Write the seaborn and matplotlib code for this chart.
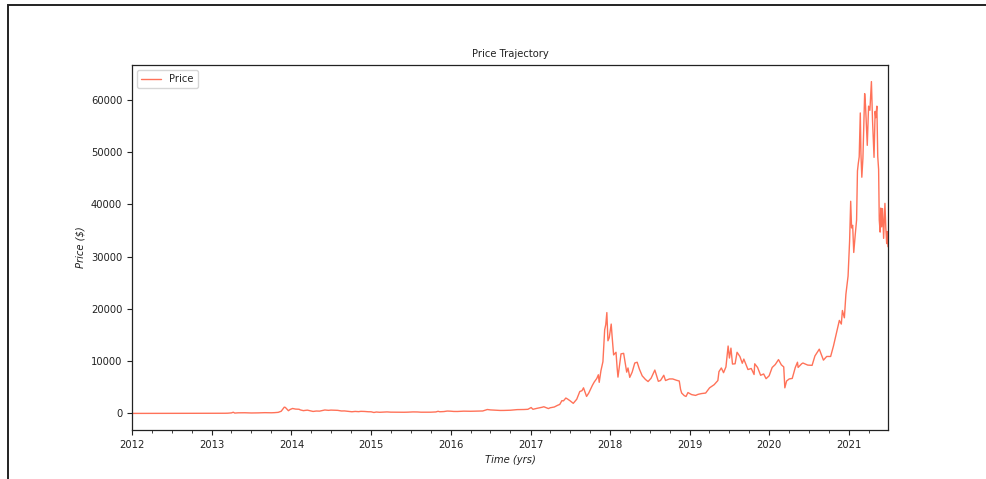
import matplotlib
matplotlib.use("Agg")
import matplotlib.pyplot as plt
import matplotlib.dates as mdates
from matplotlib.patches import Rectangle
import pandas as pd
import seaborn as sns

# Closing prices (USD) at selected dates
dates = [
    "2012-01-01", "2012-02-01", "2012-03-01", "2012-04-01", "2012-05-01", "2012-06-01",
    "2012-07-01", "2012-08-01", "2012-08-17", "2012-09-01", "2012-10-01", "2012-11-01",
    "2012-12-01", "2013-01-01", "2013-02-01", "2013-03-01", "2013-03-15", "2013-04-01",
    "2013-04-09", "2013-04-16", "2013-05-01", "2013-06-01", "2013-07-01", "2013-08-01",
    "2013-09-01", "2013-10-01", "2013-10-15", "2013-11-01", "2013-11-15", "2013-11-29",
    "2013-12-04", "2013-12-18", "2013-12-26", "2014-01-06", "2014-01-20", "2014-02-05",
    "2014-02-10", "2014-02-25", "2014-03-01", "2014-03-15", "2014-04-01", "2014-04-10",
    "2014-04-25", "2014-05-10", "2014-05-25", "2014-06-03", "2014-06-20", "2014-07-01",
    "2014-07-20", "2014-08-01", "2014-08-18", "2014-09-01", "2014-09-20", "2014-10-05",
    "2014-10-20", "2014-11-05", "2014-11-15", "2014-12-01", "2014-12-20", "2015-01-01",
    "2015-01-14", "2015-01-25", "2015-02-10", "2015-03-01", "2015-03-15", "2015-04-01",
    "2015-05-01", "2015-06-01", "2015-06-20", "2015-07-12", "2015-08-01", "2015-08-18",
    "2015-09-01", "2015-10-01", "2015-10-25", "2015-11-04", "2015-11-12", "2015-12-01",
    "2015-12-16", "2016-01-01", "2016-01-15", "2016-02-01", "2016-03-01", "2016-04-01",
    "2016-05-01", "2016-05-27", "2016-06-17", "2016-07-01", "2016-08-01", "2016-08-15",
    "2016-09-01", "2016-10-01", "2016-11-01", "2016-12-01", "2016-12-20", "2017-01-04",
    "2017-01-12", "2017-02-01", "2017-02-23", "2017-03-03", "2017-03-24", "2017-04-01",
    "2017-04-20", "2017-05-05", "2017-05-15", "2017-05-25", "2017-06-01", "2017-06-12",
    "2017-06-20", "2017-07-01", "2017-07-16", "2017-08-01", "2017-08-15", "2017-08-25",
    "2017-09-01", "2017-09-15", "2017-09-25", "2017-10-12", "2017-10-20", "2017-11-01",
    "2017-11-08", "2017-11-12", "2017-11-20", "2017-11-29", "2017-12-07", "2017-12-12",
    "2017-12-17", "2017-12-22", "2017-12-28", "2018-01-06", "2018-01-10", "2018-01-17",
    "2018-01-28", "2018-02-02", "2018-02-06", "2018-02-12", "2018-02-20", "2018-03-04",
    "2018-03-18", "2018-03-24", "2018-04-01", "2018-04-12", "2018-04-24", "2018-05-05",
    "2018-05-15", "2018-05-28", "2018-06-12", "2018-06-24", "2018-07-08", "2018-07-25",
    "2018-08-10", "2018-08-20", "2018-09-04", "2018-09-12", "2018-09-30", "2018-10-15",
    "2018-11-01", "2018-11-14", "2018-11-20", "2018-11-25", "2018-12-07", "2018-12-15",
    "2018-12-24", "2019-01-01", "2019-01-10", "2019-01-28", "2019-02-08", "2019-02-24",
    "2019-03-15", "2019-04-02", "2019-04-23", "2019-05-10", "2019-05-15", "2019-05-26",
    "2019-06-05", "2019-06-16", "2019-06-26", "2019-07-02", "2019-07-09", "2019-07-16",
    "2019-07-28", "2019-08-06", "2019-08-19", "2019-08-30", "2019-09-06", "2019-09-25",
    "2019-10-10", "2019-10-23", "2019-10-26", "2019-11-08", "2019-11-22", "2019-12-06",
    "2019-12-17", "2019-12-31", "2020-01-14", "2020-01-28", "2020-02-12", "2020-02-25",
    "2020-03-07", "2020-03-12", "2020-03-20", "2020-04-01", "2020-04-15", "2020-04-29",
    "2020-05-09", "2020-05-12", "2020-05-28", "2020-06-03", "2020-06-25", "2020-07-15",
    "2020-07-28", "2020-08-17", "2020-09-05", "2020-09-20", "2020-10-08", "2020-10-21",
    "2020-11-05", "2020-11-17", "2020-11-26", "2020-12-01", "2020-12-10", "2020-12-17",
    "2020-12-27", "2021-01-03", "2021-01-08", "2021-01-12", "2021-01-17", "2021-01-22",
    "2021-01-29", "2021-02-04", "2021-02-08", "2021-02-12", "2021-02-16", "2021-02-21",
    "2021-02-24", "2021-02-28", "2021-03-05", "2021-03-13", "2021-03-17", "2021-03-25",
    "2021-03-31", "2021-04-06", "2021-04-13", "2021-04-18", "2021-04-25", "2021-04-30",
    "2021-05-03", "2021-05-08", "2021-05-12", "2021-05-16", "2021-05-19", "2021-05-23",
    "2021-05-26", "2021-05-30", "2021-06-03", "2021-06-08", "2021-06-14", "2021-06-18",
    "2021-06-22", "2021-06-25", "2021-06-28",
]

prices = [
    5.3, 5.9, 4.9, 4.9, 5.0, 5.3,
    6.7, 9.4, 12.5, 10.1, 12.4, 10.6,
    12.5, 13.3, 20.4, 34.5, 47, 104,
    230, 68, 116, 129, 88, 106,
    146, 125, 150, 206, 420, 1200,
    1150, 520, 760, 950, 830, 800,
    680, 530, 560, 630, 480, 380,
    460, 440, 580, 660, 590, 640,
    620, 590, 470, 480, 400, 320,
    385, 340, 400, 380, 320, 315,
    180, 270, 220, 260, 290, 245,
    235, 225, 245, 290, 280, 235,
    230, 238, 285, 410, 320, 360,
    455, 430, 380, 375, 435, 415,
    450, 470, 750, 675, 610, 570,
    575, 615, 730, 750, 790, 1130,
    790, 990, 1180, 1280, 930, 1080,
    1230, 1550, 1720, 2450, 2400, 2950,
    2750, 2430, 1930, 2720, 4200, 4350,
    4900, 3250, 3900, 5400, 6000, 6700,
    7400, 5950, 8200, 9900, 16000, 17000,
    19300, 13900, 14500, 17100, 14800, 11200,
    11700, 8800, 6950, 8900, 11400, 11500,
    7900, 8700, 6900, 7900, 9650, 9800,
    8500, 7200, 6500, 6100, 6750, 8300,
    6150, 6300, 7300, 6300, 6600, 6600,
    6350, 6200, 4600, 3900, 3400, 3250,
    4000, 3800, 3600, 3450, 3650, 3800,
    3900, 4900, 5500, 6300, 8000, 8700,
    7800, 8900, 12900, 10600, 12500, 9450,
    9500, 11700, 10900, 9600, 10400, 8400,
    8600, 7450, 9500, 8800, 7300, 7550,
    6650, 7200, 8800, 9350, 10300, 9300,
    8900, 4900, 6200, 6600, 6700, 8800,
    9800, 8800, 9500, 9650, 9250, 9200,
    11000, 12300, 10200, 10900, 10900, 12900,
    15600, 17800, 17100, 19700, 18300, 22800,
    26300, 33000, 40600, 35500, 36000, 30800,
    34300, 37000, 46400, 47900, 49100, 57500,
    49700, 45200, 48800, 61200, 58900, 51300,
    58800, 58000, 63500, 56200, 49000, 57800,
    56600, 58800, 49200, 46700, 37000, 34700,
    39300, 35700, 39200, 33500, 40200, 35500,
    32500, 34800, 31900,
]

df = pd.DataFrame({"Date": pd.to_datetime(dates), "Price": prices})

sns.set_style("white")
plt.rcParams["font.family"] = ["DejaVu Sans"]

fig = plt.figure(figsize=(9.86, 4.79), dpi=100)
ax = fig.add_axes([0.1339, 0.1023, 0.7667, 0.762])

sns.lineplot(data=df, x="Date", y="Price", ax=ax, color="tomato",
             linewidth=1.0, alpha=0.9, label="Price")

ax.set_xlim(df["Date"].iloc[0], df["Date"].iloc[-1])
ax.margins(y=0.05)
ax.xaxis.set_major_locator(mdates.YearLocator())
ax.xaxis.set_major_formatter(mdates.DateFormatter("%Y"))
ax.xaxis.set_minor_locator(mdates.MonthLocator(bymonth=[4, 7, 10]))

ax.tick_params(axis="both", which="major", labelsize=7.2, length=3.5,
               width=0.8, color="#222222", labelcolor="#222222", bottom=True, left=True)
ax.tick_params(axis="x", which="minor", length=2, width=0.6, color="#222222", bottom=True)

for s in ax.spines.values():
    s.set_color("#222222")
    s.set_linewidth(0.9)

ax.set_title("Price Trajectory", fontsize=7.2, color="#222222")
ax.set_xlabel("Time (yrs)", fontsize=7.2, style="italic", color="#222222")
ax.set_ylabel("Price ($)", fontsize=7.2, style="italic", color="#222222")

leg = ax.legend(loc="upper left", fontsize=7.2, frameon=True, fancybox=True)
leg.get_frame().set_edgecolor("#cccccc")

# Outer figure frame
fig.patches.append(Rectangle((7.5 / 986, -0.2), 2.0, 1.2 - 5.5 / 479,
                             transform=fig.transFigure, fill=False,
                             edgecolor="#222222", linewidth=1.4, zorder=10))

fig.savefig("out.png", dpi=100)
